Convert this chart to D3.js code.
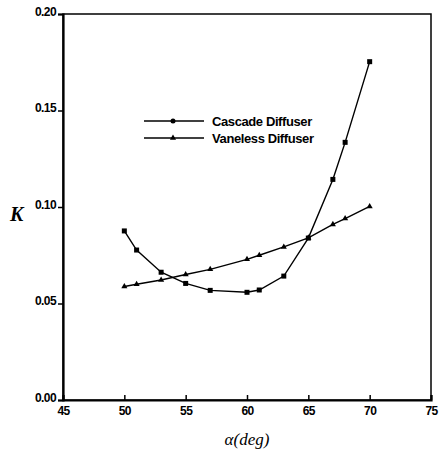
<!DOCTYPE html>
<html>
<head>
<meta charset="utf-8">
<script src="https://cdnjs.cloudflare.com/ajax/libs/d3/7.8.5/d3.min.js"></script>
<style>
  body { margin: 0; background: #fff; }
  .tick text { font-family: "Liberation Sans", Arial, sans-serif; font-weight: bold; font-size: 12px; letter-spacing: -0.6px; }
</style>
</head>
<body>
<div id="chart"></div>
<script>
// Data
var cascadeAlpha = [50, 51, 53, 55, 57, 60, 61, 63, 65, 67, 68, 70];
var cascadeK     = [0.0876, 0.0777, 0.0662, 0.0604, 0.0568, 0.0558, 0.0570, 0.0642, 0.0839, 0.1143, 0.1335, 0.1753];
var vanelessAlpha = [50, 51, 53, 55, 57, 60, 61, 63, 65, 67, 68, 70];
var vanelessK     = [0.0588, 0.0600, 0.0622, 0.0650, 0.0677, 0.0729, 0.0750, 0.0793, 0.0840, 0.0910, 0.0940, 0.1003];
var xTicks = [45, 50, 55, 60, 65, 70, 75];
var yTicks = [0.00, 0.05, 0.10, 0.15, 0.20];
var seriesNames = ["Cascade Diffuser", "Vaneless Diffuser"];

var width = 444, height = 452;
var margin = {left: 63, right: 13, top: 14, bottom: 52};

var svg = d3.select("#chart").append("svg")
    .attr("width", width)
    .attr("height", height);

// Scales
var x = d3.scaleLinear().domain([45, 75]).range([margin.left, width - margin.right]);
var y = d3.scaleLinear().domain([0, 0.2]).range([height - margin.bottom, margin.top]);

// Frame
svg.append("rect")
    .attr("x", x(45)).attr("y", y(0.2))
    .attr("width", x(75) - x(45)).attr("height", y(0) - y(0.2))
    .attr("fill", "none").attr("stroke", "#000").attr("stroke-width", 1.5);

// Axes
var yAxis = svg.append("g")
    .attr("transform", `translate(${x(45)},0)`)
    .call(d3.axisLeft(y).tickValues(yTicks).tickFormat(d3.format(".2f")).tickSize(5).tickPadding(2));
var xAxis = svg.append("g")
    .attr("transform", `translate(0,${y(0)})`)
    .call(d3.axisBottom(x).tickValues(xTicks).tickSize(-5).tickPadding(4));
[yAxis, xAxis].forEach(function(a) {
    a.select(".domain").attr("stroke-width", 2.2);
    a.selectAll(".tick line").attr("stroke-width", 1.5);
});
xAxis.selectAll(".tick text").attr("dy", "0.9em");
yAxis.selectAll(".tick text").attr("dy", "0.1em");

// Lines
var line = d3.line().x(d => x(d[0])).y(d => y(d[1]));

var cascade = cascadeAlpha.map((a, i) => [a, cascadeK[i]]);
var vaneless = vanelessAlpha.map((a, i) => [a, vanelessK[i]]);

svg.append("path").datum(cascade).attr("d", line)
    .attr("fill", "none").attr("stroke", "#000").attr("stroke-width", 1.4);
svg.append("path").datum(vaneless).attr("d", line)
    .attr("fill", "none").attr("stroke", "#000").attr("stroke-width", 1.4);

// Markers
svg.selectAll(".sq").data(cascade).enter().append("rect")
    .attr("x", d => x(d[0]) - 2.5).attr("y", d => y(d[1]) - 2.5)
    .attr("width", 5).attr("height", 5).attr("fill", "#000");
var tri = d3.symbol().type(d3.symbolTriangle).size(16);
svg.selectAll(".tri").data(vaneless).enter().append("path")
    .attr("d", tri)
    .attr("transform", d => `translate(${x(d[0])},${y(d[1])})`)
    .attr("fill", "#000");

// Legend
var legend = svg.append("g").attr("transform", "translate(144,121)");
seriesNames.forEach(function(name, i) {
    var g = legend.append("g").attr("transform", `translate(0,${i * 17})`);
    g.append("line").attr("x1", 0).attr("x2", 60).attr("stroke", "#000").attr("stroke-width", 1.4);
    if (i === 0) {
        g.append("circle").attr("cx", 29).attr("r", 2.5).attr("fill", "#000");
    } else {
        g.append("path").attr("d", tri).attr("transform", "translate(29,0)").attr("fill", "#000");
    }
    g.append("text").attr("x", 68).attr("y", 4.5)
        .style("font-family", "'Liberation Sans', Arial, sans-serif")
        .style("font-size", "13px").style("font-weight", "bold").style("letter-spacing", "-0.4px")
        .text(name);
});

// Axis titles
svg.append("text").attr("x", 10).attr("y", 221)
    .style("font-family", "'Liberation Serif', 'Times New Roman', serif")
    .style("font-style", "italic").style("font-weight", "bold").style("font-size", "20px")
    .text("K");
svg.append("text").attr("x", (x(45) + x(75)) / 2).attr("y", 445)
    .attr("text-anchor", "middle")
    .style("font-family", "'Liberation Serif', 'Times New Roman', serif")
    .style("font-style", "italic").style("font-size", "17px")
    .text("α(deg)");
</script>
</body>
</html>
